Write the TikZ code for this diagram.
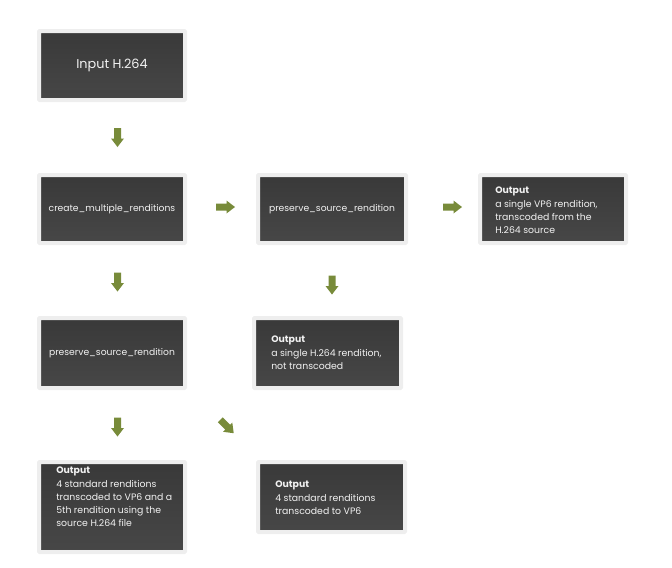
\documentclass[tikz,border=0pt]{standalone}
\usepackage{fontspec}
\setmainfont{Poppins}
\definecolor{boxtop}{HTML}{393939}
\definecolor{boxbot}{HTML}{474747}
\definecolor{rim}{HTML}{EEEEEE}
\definecolor{arrowgreen}{HTML}{788B3A}
\definecolor{txt}{HTML}{F2F2F2}
\tikzset{
  darkbox/.style={rectangle, inner sep=0pt, outer sep=0pt, top color=boxtop, bottom color=boxbot, draw=rim, line width=3pt, rounded corners=0.5pt},
  plainlabel/.style={text=txt, font=\fontsize{6.9}{9.75}\selectfont, inner sep=0pt},
  outlabel/.style={text=txt, font=\fontsize{7}{9.9}\selectfont, inner sep=0pt, anchor=north west, align=left},
  blockarrow/.pic={\fill[arrowgreen] (-9.5,-3.5) -- (1,-3.5) -- (1,-6.5) -- (9.5,0) -- (1,6.5) -- (1,3.5) -- (-9.5,3.5) -- cycle;}
}
\begin{document}
\begin{tikzpicture}[x=0.75pt, y=-0.75pt]
\useasboundingbox (0,0) rectangle (672,568);
% boxes
\node[darkbox, minimum width=146*0.75pt, minimum height=69*0.75pt] (input) at (112,65.5) {};
\node[darkbox, minimum width=146*0.75pt, minimum height=68*0.75pt] (create) at (112,209) {};
\node[darkbox, minimum width=148*0.75pt, minimum height=68*0.75pt] (pres1) at (332,209) {};
\node[darkbox, minimum width=146*0.75pt, minimum height=68*0.75pt] (out1) at (553,209) {};
\node[darkbox, minimum width=146*0.75pt, minimum height=70*0.75pt] (pres2) at (112,353) {};
\node[darkbox, minimum width=147*0.75pt, minimum height=70*0.75pt] (out2) at (327.5,353) {};
\node[darkbox, minimum width=146*0.75pt, minimum height=90*0.75pt] (out3) at (112,507) {};
\node[darkbox, minimum width=147*0.75pt, minimum height=70*0.75pt] (out4) at (331.5,497) {};
% labels
\node[plainlabel, font=\fontsize{9.6}{11}\selectfont] (tinput) at (input.center) {Input H.264};
\node[plainlabel] (tcreate) at (create.center) {create\_multiple\_renditions};
\node[plainlabel] (tpres1) at (pres1.center) {preserve\_source\_rendition};
\node[plainlabel] (tpres2) at (pres2.center) {preserve\_source\_rendition};
\node[outlabel] (tout1) at (495,187) {\textbf{Output}\\a single VP6 rendition,\\transcoded from the\\H.264 source};
\node[outlabel] (tout2) at (271,336) {\textbf{Output}\\a single H.264 rendition,\\not transcoded};
\node[outlabel] (tout3) at (56,467) {\textbf{Output}\\4 standard renditions\\transcoded to VP6 and a\\5th rendition using the\\source H.264 file};
\node[outlabel] (tout4) at (275,481) {\textbf{Output}\\4 standard renditions\\transcoded to VP6};
% block arrows
\path (117.5,137.5) pic[rotate=-90] {blockarrow};
\path (225.5,207) pic {blockarrow};
\path (452.5,207) pic {blockarrow};
\path (117.5,282) pic[rotate=-90] {blockarrow};
\path (332,285) pic[rotate=-90] {blockarrow};
\path (117.5,427) pic[rotate=-90] {blockarrow};
\path (227,426.5) pic[rotate=-45] {blockarrow};
\end{tikzpicture}
\end{document}
